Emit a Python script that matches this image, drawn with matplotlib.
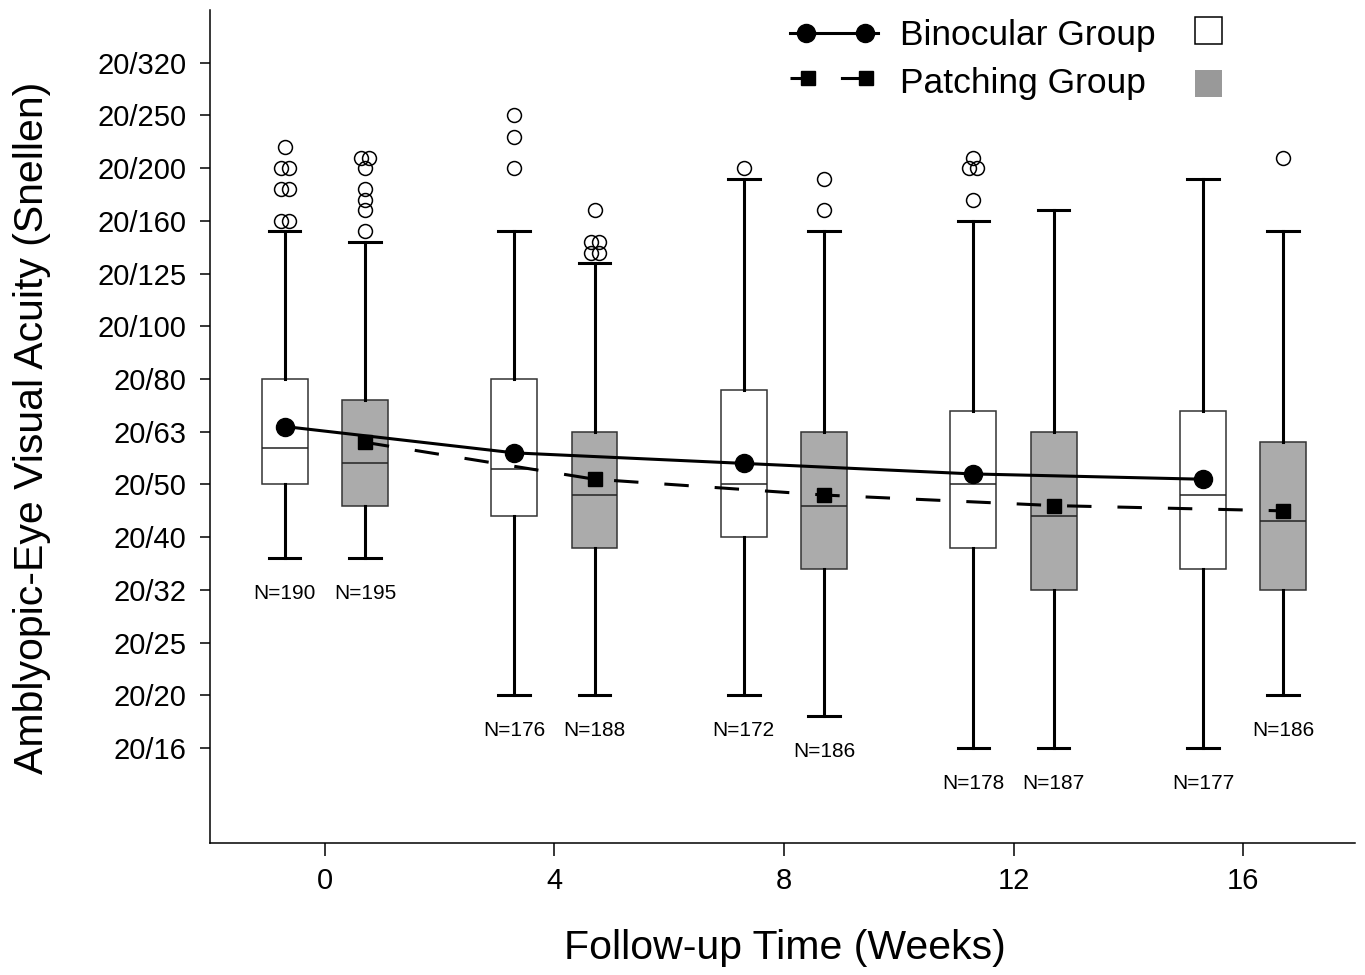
import numpy as np
import matplotlib
matplotlib.use("Agg")
import matplotlib.pyplot as plt
from matplotlib.lines import Line2D
from matplotlib.patches import Rectangle

plt.rcParams['font.family'] = ['Liberation Sans', 'DejaVu Sans']

# data (logMAR; Snellen labels on the axis)
weeks = [0, 4, 8, 12, 16]

bino_whislo = [0.26, 0.0, 0.0, -0.1, -0.1]
bino_q1 = [0.40, 0.34, 0.30, 0.28, 0.24]
bino_med = [0.47, 0.43, 0.40, 0.40, 0.38]
bino_q3 = [0.60, 0.60, 0.58, 0.54, 0.54]
bino_whishi = [0.88, 0.88, 0.98, 0.90, 0.98]
bino_mean = [0.51, 0.46, 0.44, 0.42, 0.41]
bino_n = [190, 176, 172, 178, 177]
bino_out = [[1.04, 1.0, 1.0, 0.96, 0.96, 0.90, 0.90],
            [1.10, 1.06, 1.0],
            [1.0],
            [1.02, 1.0, 1.0, 0.94],
            []]

patch_whislo = [0.26, 0.0, -0.04, -0.1, 0.0]
patch_q1 = [0.36, 0.28, 0.24, 0.20, 0.20]
patch_med = [0.44, 0.38, 0.36, 0.34, 0.33]
patch_q3 = [0.56, 0.50, 0.50, 0.50, 0.48]
patch_whishi = [0.86, 0.82, 0.88, 0.92, 0.88]
patch_mean = [0.48, 0.41, 0.38, 0.36, 0.35]
patch_n = [195, 188, 186, 187, 186]
patch_out = [[1.02, 1.02, 1.0, 0.96, 0.94, 0.92, 0.88],
             [0.92, 0.86, 0.86, 0.84, 0.84],
             [0.98, 0.92],
             [],
             [1.02]]

snellen = ["20/16", "20/20", "20/25", "20/32", "20/40", "20/50", "20/63",
           "20/80", "20/100", "20/125", "20/160", "20/200", "20/250", "20/320"]
logmar = [-0.1, 0.0, 0.1, 0.2, 0.3, 0.4, 0.5, 0.6, 0.7, 0.8, 0.9, 1.0, 1.1, 1.2]

offset = 0.7
box_w = 0.8

fig = plt.figure(figsize=(13.65, 9.75), dpi=100)
ax = fig.add_axes([210 / 1365, 1 - 843 / 975, 1145 / 1365, 833 / 975])


def draw_group(xs, lo, q1, med, q3, hi, outs, ns, face):
    stats = []
    for i in range(len(xs)):
        stats.append(dict(whislo=lo[i], q1=q1[i], med=med[i], q3=q3[i],
                          whishi=hi[i], fliers=[]))
    ax.bxp(stats, positions=xs, widths=box_w, capwidths=0.55, patch_artist=True,
           showfliers=False, manage_ticks=False,
           boxprops=dict(facecolor=face, edgecolor="#333333", linewidth=1.1),
           medianprops=dict(color="#222222", linewidth=1.1),
           whiskerprops=dict(color="black", linewidth=2.2),
           capprops=dict(color="black", linewidth=2.2))
    for i, x in enumerate(xs):
        vals = outs[i]
        # spread tied outliers sideways a little
        for v in set(vals):
            k = vals.count(v)
            offs = (np.arange(k) - (k - 1) / 2) * 0.14
            ax.plot(x + offs, [v] * k, "o", ms=10, mfc="none", mec="black",
                    mew=1.1, zorder=4)
        ax.text(x, lo[i] - 0.067, "N=%d" % ns[i], ha="center", va="center",
                fontsize=15)


bx = [w - offset for w in weeks]
px = [w + offset for w in weeks]
draw_group(bx, bino_whislo, bino_q1, bino_med, bino_q3, bino_whishi, bino_out,
           bino_n, "white")
draw_group(px, patch_whislo, patch_q1, patch_med, patch_q3, patch_whishi,
           patch_out, patch_n, "#ababab")

ax.plot(bx, bino_mean, "-", color="black", lw=2.2, marker="o", ms=13, zorder=5)
ax.plot(px, patch_mean, color="black", lw=2.2, dashes=(8.0, 8.5), marker="s",
        ms=9.5, zorder=5)

ax.set_xlim(-2.0, 17.95)
ax.set_ylim(-0.28, 1.30)
ax.set_xticks(weeks)
ax.set_xticklabels([str(w) for w in weeks])
ax.set_yticks(logmar)
ax.set_yticklabels(snellen)
ax.tick_params(axis="y", direction="out", length=7, width=1.1, pad=10,
               labelsize=21)
ax.tick_params(axis="x", direction="out", length=9, width=1.1, pad=8,
               labelsize=21)
for s in ["top", "right"]:
    ax.spines[s].set_visible(False)
for s in ["left", "bottom"]:
    ax.spines[s].set_linewidth(1.1)

fig.text(785 / 1365, 1 - 948 / 975, "Follow-up Time (Weeks)",
         ha="center", va="center", fontsize=29.5)
fig.text(32 / 1365, 1 - 428 / 975, "Amblyopic-Eye Visual Acuity (Snellen)",
         ha="center", va="center", rotation=90, fontsize=29.5)

# legend drawn by hand in figure pixels
tf = fig.transFigure
W, H = 1365.0, 975.0
fig.add_artist(Line2D([790 / W, 878 / W], [1 - 33 / H, 1 - 33 / H],
                      color="black", lw=2.2, transform=tf))
fig.add_artist(Line2D([806 / W, 865 / W], [1 - 33 / H, 1 - 33 / H], ls="none",
                      marker="o", ms=13, color="black", transform=tf))
fig.add_artist(Line2D([790 / W, 866 / W], [1 - 78 / H, 1 - 78 / H],
                      color="black", lw=2.2, dashes=(8.0, 8.5), transform=tf))
fig.add_artist(Line2D([808 / W, 866 / W], [1 - 78 / H, 1 - 78 / H], ls="none",
                      marker="s", ms=9.5, color="black", transform=tf))
fig.text(900 / W, 1 - 36 / H, "Binocular Group", ha="left", va="center",
         fontsize=25.5)
fig.text(900 / W, 1 - 83 / H, "Patching Group", ha="left", va="center",
         fontsize=25.5)
fig.add_artist(Rectangle((1195 / W, 1 - 44 / H), 27 / W, 27 / H,
                         facecolor="white", edgecolor="black", lw=1.1,
                         transform=tf))
fig.add_artist(Rectangle((1195 / W, 1 - 97 / H), 27 / W, 27 / H,
                         facecolor="#999999", edgecolor="none", transform=tf))

fig.savefig("out.png", dpi=100)
